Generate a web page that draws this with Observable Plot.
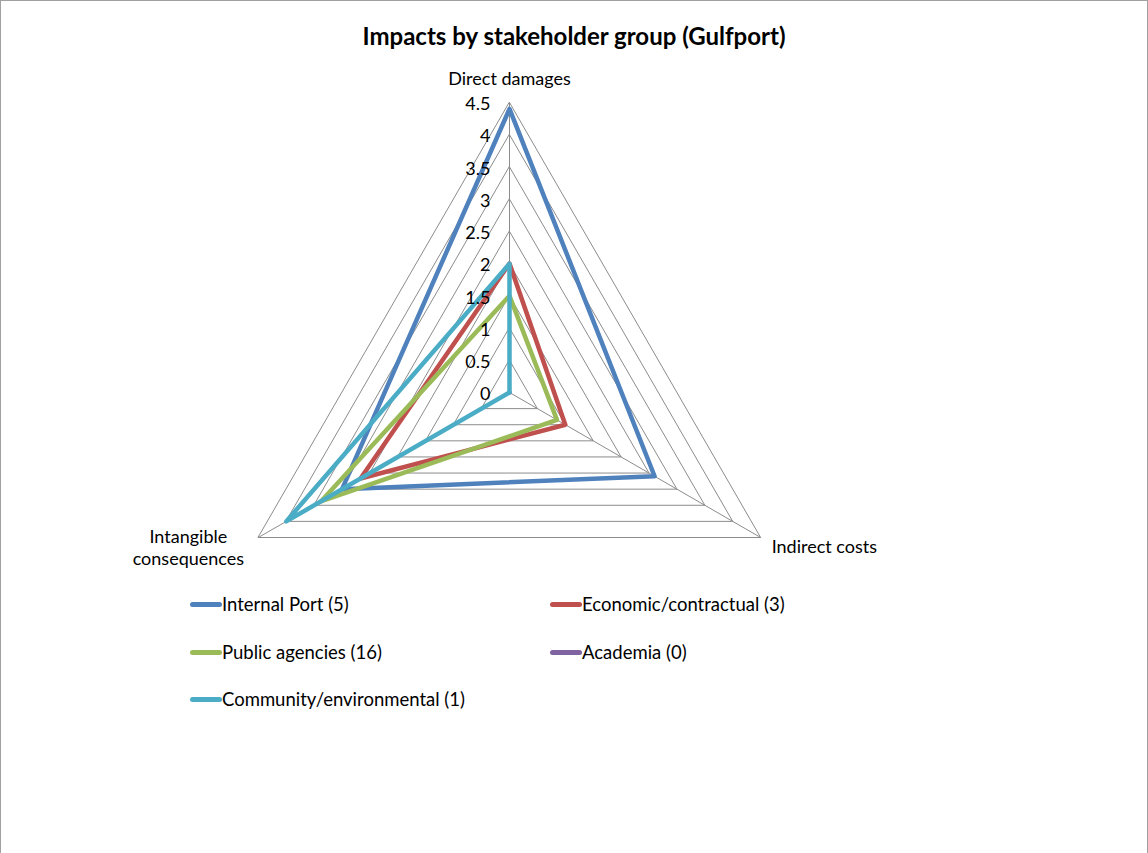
<!DOCTYPE html>
<html><head><meta charset="utf-8">
<script src="https://cdn.jsdelivr.net/npm/d3@7"></script>
<script src="https://cdn.jsdelivr.net/npm/@observablehq/plot@0.6"></script>
<style>
body{margin:0;background:#fff;font-family:Lato,"Noto Sans",sans-serif;}
#wrap{position:relative;width:1148px;height:853px;overflow:hidden;background:#fff}
#frame{position:absolute;left:0;top:0;width:1148px;height:853px;box-sizing:border-box;border:1px solid #a0a0a0;border-bottom:none;pointer-events:none}
#title{position:absolute;left:0;width:1148px;top:21px;text-align:center;font-weight:bold;font-size:24px;color:#000;line-height:30px}
#chart{position:absolute;left:0;top:60px}
.leg{position:absolute;font-size:18.5px;color:#000;line-height:22px;white-space:nowrap}
.sw{position:absolute;height:5px;border-radius:3px}
</style>
</head><body>
<div id="wrap">
  <div id="title">Impacts by stakeholder group (Gulfport)</div>
  <div id="chart"></div>
  <div id="legend"></div>
  <div id="frame"></div>
</div>
<script>
// ---- data ----
const axes = ["Direct damages", "Indirect costs", "Intangible consequences"];
const seriesNames = ["Internal Port (5)", "Economic/contractual (3)", "Public agencies (16)", "Academia (0)", "Community/environmental (1)"];
const internalPort = [4.4, 2.6, 3.0];
const economicContractual = [2.0, 1.0, 2.67];
const publicAgencies = [1.5, 0.85, 3.38];
const academia = [0, 0, 0];
const communityEnvironmental = [2.0, 0, 4.0];
const seriesValues = [internalPort, economicContractual, publicAgencies, academia, communityEnvironmental];
const seriesColors = ["#4F81BD", "#C0504D", "#9BBB59", "#8064A2", "#4BACC6"];
const ticks = [0, 0.5, 1, 1.5, 2, 2.5, 3, 3.5, 4, 4.5];

// ---- geometry helpers (polar -> cartesian in data units) ----
const W = 1148, H = 520, CX = 509, CY = 332;
const rMax = d3.max(ticks);
const K = 290 / rMax; // px per unit
const ang = i => i * 2 * Math.PI / axes.length;
const px = (v, i) => v * Math.sin(ang(i));
const py = (v, i) => v * Math.cos(ang(i));

const rows = [];
seriesNames.forEach((s, si) => {
  seriesValues[si].forEach((v, i) => rows.push({series: s, axis: axes[i], value: v, x: px(v, i), y: py(v, i)}));
});
const grid = [];
ticks.filter(t => t > 0).forEach(t => axes.forEach((a, i) => grid.push({t, x: px(t, i), y: py(t, i)})));
const spokes = axes.map((a, i) => ({axis: a, x1: 0, y1: 0, x2: px(rMax, i), y2: py(rMax, i)}));

const font = "Lato, 'Noto Sans', sans-serif";
const FS = 18;
const chart = Plot.plot({
  width: W, height: H,
  margin: 0,
  x: {domain: [-CX / K, (W - CX) / K], axis: null},
  y: {domain: [-(H - CY) / K, CY / K], axis: null},
  color: {domain: seriesNames, range: seriesColors},
  style: {fontFamily: font, fontSize: FS + "px", background: "transparent", color: "#000"},
  marks: [
    Plot.line(grid, {x: "x", y: "y", z: "t", curve: "linear-closed", stroke: "#8c8c8c", strokeWidth: 1}),
    Plot.link(spokes, {x1: "x1", y1: "y1", x2: "x2", y2: "y2", stroke: "#8c8c8c", strokeWidth: 1}),
    Plot.line(rows, {x: "x", y: "y", z: "series", stroke: "series", curve: "linear-closed", strokeWidth: 4.5, strokeLinejoin: "round", strokeLinecap: "round"}),
    Plot.text(ticks, {x: () => 0, y: d => d, text: d => String(d), textAnchor: "end", dx: -19, dy: 2, fill: "#000", fontSize: FS}),
    Plot.text([0], {x: () => px(rMax, 0), y: () => py(rMax, 0), text: () => axes[0], textAnchor: "middle", dy: -23, fill: "#000", fontSize: FS}),
    Plot.text([1], {x: () => px(rMax, 1), y: () => py(rMax, 1), text: () => axes[1], textAnchor: "start", dx: 11, dy: 10, fill: "#000", fontSize: FS}),
    Plot.text([2], {x: () => px(rMax, 2), y: () => py(rMax, 2), text: () => axes[2].replace(" ", "\n"), textAnchor: "middle", dx: -70, dy: 9, lineHeight: 1.22, fill: "#000", fontSize: FS})
  ]
});
document.getElementById("chart").appendChild(chart);

// ---- legend (HTML) ----
const legPos = [[190, 604], [550, 604], [190, 652], [550, 652], [190, 699]];
const leg = document.getElementById("legend");
seriesNames.forEach((s, i) => {
  const [lx, ly] = legPos[i];
  const sw = document.createElement("div");
  sw.className = "sw";
  sw.style.left = lx + "px"; sw.style.top = (ly - 2.5) + "px"; sw.style.width = "32px";
  sw.style.background = seriesColors[i];
  leg.appendChild(sw);
  const t = document.createElement("div");
  t.className = "leg";
  t.style.left = (lx + 32) + "px"; t.style.top = (ly - 11) + "px";
  t.textContent = s;
  leg.appendChild(t);
});
</script>
</body></html>
